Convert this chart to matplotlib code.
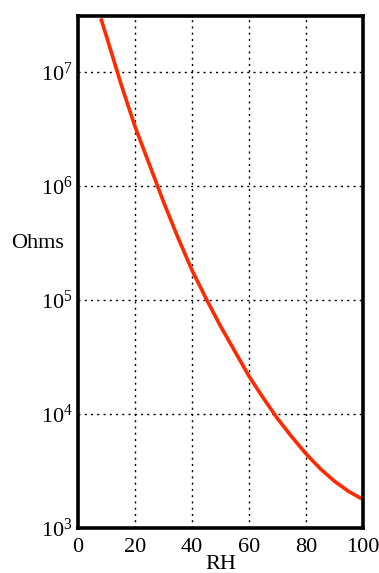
import matplotlib
matplotlib.use('Agg')
import matplotlib.pyplot as plt
from matplotlib.ticker import LogLocator, NullLocator

# RH (%) vs resistance (Ohms)
rh = [8, 10, 15, 20, 25, 30, 35, 40, 45, 50, 55, 60, 65, 70, 75, 80, 85, 90, 95, 100]
ohms = [2.95e7, 2.04e7, 7.94e6, 3.31e6, 1.55e6, 7.24e5, 3.55e5, 1.82e5, 1.02e5, 5.89e4,
        3.55e4, 2.14e4, 1.38e4, 9.1e3, 6.3e3, 4.47e3, 3.31e3, 2.57e3, 2.09e3, 1.78e3]
x_ticks = [0, 20, 40, 60, 80, 100]

plt.rcParams['font.family'] = ['Liberation Serif', 'DejaVu Serif']
plt.rcParams['mathtext.fontset'] = 'stix'

fig = plt.figure(figsize=(3.79, 5.73), dpi=100)
ax = fig.add_axes([0.206, 0.0785, 0.752, 0.8935])

ax.plot(rh, ohms, color='#ff2a00', lw=2.6, solid_capstyle='butt')
ax.set_yscale('log')
ax.set_xlim(0, 100)
ax.set_ylim(1e3, 3.1e7)
ax.set_xticks(x_ticks)
ax.yaxis.set_major_locator(LogLocator(base=10, numticks=10))
ax.yaxis.set_minor_locator(NullLocator())
ax.tick_params(length=0, labelsize=16)
ax.tick_params(axis='x', pad=7)
ax.tick_params(axis='y', pad=4)

ax.grid(True, color='black', linestyle=(0, (1.5, 3)), linewidth=1.0)
for s in ax.spines.values():
    s.set_linewidth(2.6)

ax.set_xlabel('RH', fontsize=16, labelpad=-1)
fig.text(0.098, 0.575, 'Ohms', fontsize=16, ha='center', va='center')

fig.savefig('out.png', dpi=100)
